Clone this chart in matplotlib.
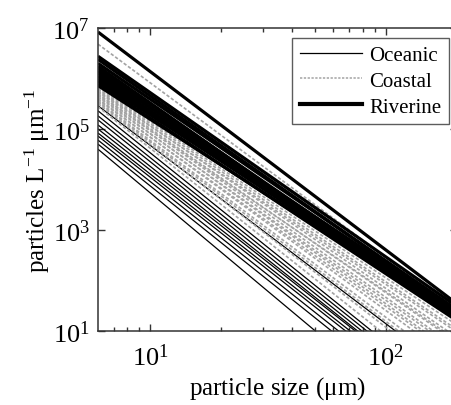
import numpy as np
import matplotlib
matplotlib.use("Agg")
import matplotlib.pyplot as plt
from matplotlib.lines import Line2D
from matplotlib.ticker import FixedLocator, NullFormatter, NullLocator

plt.rcParams["font.family"] = ["Liberation Serif", "DejaVu Serif"]
plt.rcParams["mathtext.fontset"] = "custom"
plt.rcParams["mathtext.rm"] = "Liberation Serif"
plt.rcParams["mathtext.it"] = "Liberation Serif:italic"

# Power-law particle size distributions N(D) = N6 * (D / 6)^(-slope)
# log10 of N at D = 6 um, and the PSD slope, per sample
oceanic_log_n6 = [4.60, 4.70, 4.78, 4.86, 4.92, 5.00, 5.08, 5.18, 5.26, 5.36, 5.46]
oceanic_slope = [3.90, 3.73, 3.70, 3.67, 3.66, 3.66, 3.70, 3.73, 3.73, 3.75, 3.53]

coastal_log_n6 = [6.68, 5.83, 5.80, 5.78, 5.75, 5.73, 5.70, 5.68, 5.66,
                  5.63, 5.60, 5.58, 5.55, 5.53, 5.50, 5.44]
coastal_slope = [3.45, 3.09, 3.13, 3.22, 3.13, 3.25, 3.30, 3.19, 3.37,
                 3.29, 3.43, 3.35, 3.50, 3.55, 3.62, 3.70]

riverine_log_n6 = [6.92, 6.44, 6.38, 6.30, 6.24, 6.20, 6.15, 6.10, 6.05,
                   6.00, 5.95, 5.90, 5.86]
riverine_slope = [3.53, 3.25, 3.27, 3.20, 3.27, 3.19, 3.23, 3.08, 3.11,
                  3.11, 3.03, 3.08, 3.01]

size_min, size_max = 6.0, 200.0
sizes = np.logspace(np.log10(size_min), np.log10(size_max), 300)


def psd(log_n6, slope):
    return 10.0 ** (log_n6 - slope * (np.log10(sizes) - np.log10(size_min)))


fig = plt.figure(figsize=(4.51, 4.06), dpi=100)
ax = fig.add_axes([0.2173, 0.1823, 0.795, 0.7463])

ocean_style = dict(color="black", lw=0.9, solid_capstyle="butt")
coast_style = dict(color="#a3a3a3", lw=1.2, linestyle=(0, (2.0, 1.2)))
river_style = dict(color="black", lw=2.3, solid_capstyle="butt")

for n6, s in zip(oceanic_log_n6, oceanic_slope):
    ax.plot(sizes, psd(n6, s), **ocean_style)
for n6, s in zip(coastal_log_n6, coastal_slope):
    ax.plot(sizes, psd(n6, s), **coast_style)
for n6, s in zip(riverine_log_n6, riverine_slope):
    ax.plot(sizes, psd(n6, s), **river_style)

ax.set_xscale("log")
ax.set_yscale("log")
ax.set_xlim(size_min, size_max)
ax.set_ylim(1e1, 1e7)

# Ticks
ax.xaxis.set_major_locator(FixedLocator([10, 100]))
ax.xaxis.set_minor_locator(FixedLocator([7, 8, 9, 20, 30, 40, 50, 60, 70, 80, 90, 200]))
ax.xaxis.set_minor_formatter(NullFormatter())
ax.set_xticklabels([r"$\mathregular{10^{1}}$", r"$\mathregular{10^{2}}$"])
ax.yaxis.set_major_locator(FixedLocator([1e1, 1e3, 1e5, 1e7]))
ax.yaxis.set_minor_locator(NullLocator())
ax.set_yticklabels([r"$\mathregular{10^{1}}$", r"$\mathregular{10^{3}}$",
                    r"$\mathregular{10^{5}}$", r"$\mathregular{10^{7}}$"])

ax.tick_params(which="both", direction="in", top=True, right=True,
               colors="#333333", labelcolor="black", labelsize=19)
ax.tick_params(which="major", length=5, width=1.0)
ax.tick_params(axis="x", which="major", pad=9)
ax.tick_params(axis="y", which="major", pad=6)
ax.tick_params(which="minor", length=3, width=1.0)
for sp in ax.spines.values():
    sp.set_color("#333333")
    sp.set_linewidth(1.1)

ax.set_xlabel(r"particle size ($\mathregular{\mu}$m)", fontsize=18, labelpad=3)
ax.set_ylabel(r"particles L$\mathregular{^{-1}}$ $\mathregular{\mu}$m$\mathregular{^{-1}}$",
              fontsize=18, labelpad=0)

handles = [
    Line2D([], [], color="black", lw=0.9),
    Line2D([], [], color="#a3a3a3", lw=1.1, linestyle=(0, (1.5, 1.0))),
    Line2D([], [], color="black", lw=3.0),
]
leg = ax.legend(handles, ["Oceanic", "Coastal", "Riverine"],
                loc="upper right", bbox_to_anchor=(0.9785, 0.967),
                fontsize=15, frameon=True, fancybox=False,
                handlelength=3.0, handletextpad=0.35, labelspacing=0.3,
                borderpad=0.35, borderaxespad=0.0)
leg.get_frame().set_edgecolor("#333333")
leg.get_frame().set_linewidth(1.0)

fig.savefig("out.png", dpi=100)
